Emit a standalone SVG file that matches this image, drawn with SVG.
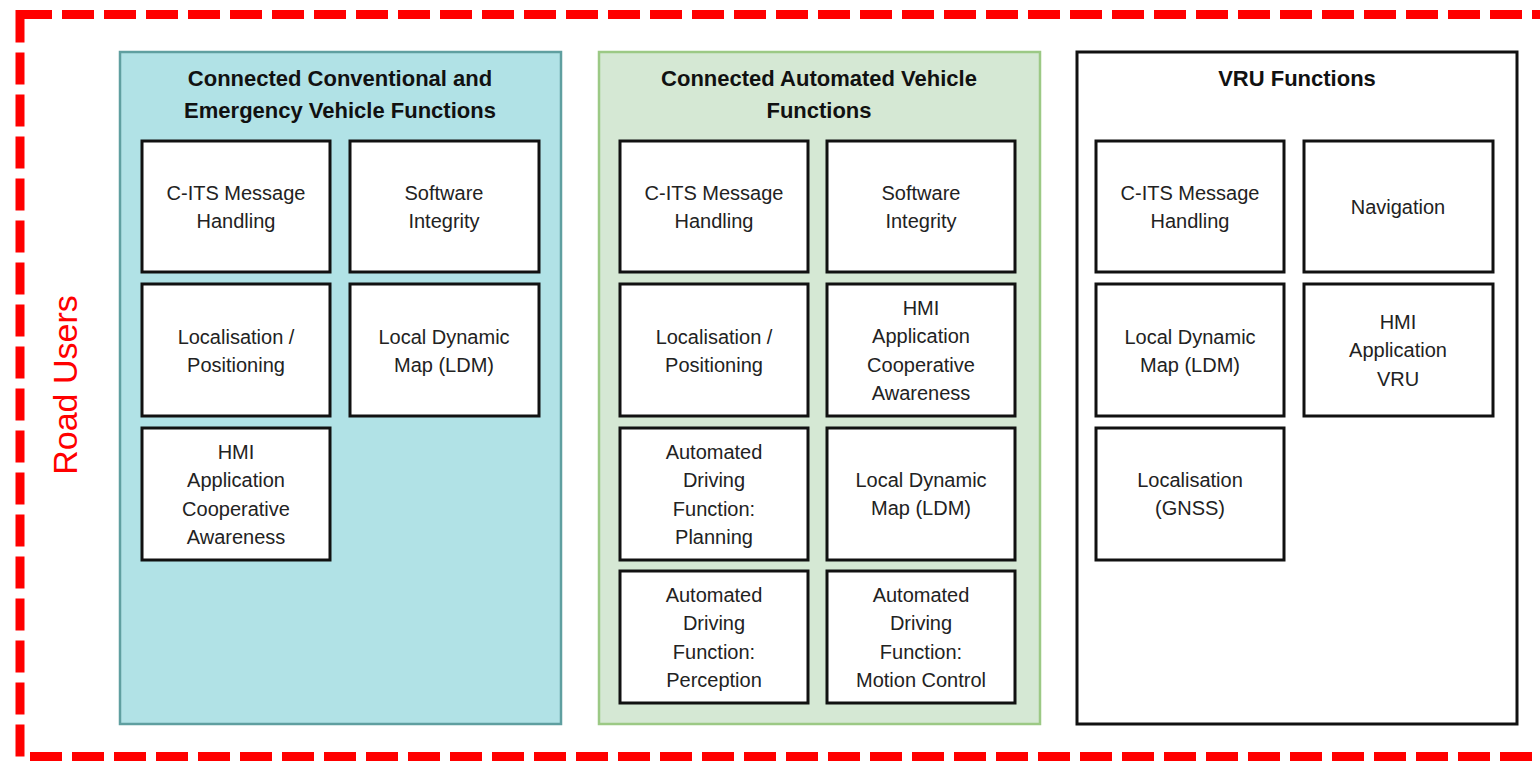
<svg xmlns="http://www.w3.org/2000/svg" width="1540" height="761" viewBox="0 0 1540 761">
<style>
.border{fill:none;stroke:#ff0000;stroke-width:9;stroke-dasharray:32 10}
.p1{fill:#b1e2e6;stroke:#5f9fa0;stroke-width:2.5}
.p2{fill:#d5e8d4;stroke:#9cc985;stroke-width:2.5}
.p3{fill:#ffffff;stroke:#111111;stroke-width:3}
.box{fill:#ffffff;stroke:#111111;stroke-width:3}
.title{font-family:"Liberation Sans",Arial,sans-serif;font-weight:bold;font-size:22px;fill:#111111;text-anchor:middle}
.lbl{font-family:"Liberation Sans",Arial,sans-serif;font-size:20px;fill:#222222;text-anchor:middle}
.road{font-family:"Liberation Sans",Arial,sans-serif;font-size:34px;fill:#ff0000;text-anchor:middle}
</style>
<rect width="1540" height="761" fill="#ffffff"/>
<rect class="border" x="20" y="14.5" width="1540" height="742"/>
<text class="road" transform="translate(77,385) rotate(-90)">Road Users</text>

<g id="panel-conventional">
<rect class="p1" x="120" y="52" width="441" height="672"/>
<text class="title" x="340" y="86">Connected Conventional and</text>
<text class="title" x="340" y="118">Emergency Vehicle Functions</text>
</g>
<g id="panel-automated">
<rect class="p2" x="599" y="52" width="441" height="672"/>
<text class="title" x="819" y="86">Connected Automated Vehicle</text>
<text class="title" x="819" y="118">Functions</text>
</g>
<g id="panel-vru">
<rect class="p3" x="1077" y="52" width="440" height="672"/>
<text class="title" x="1297" y="86">VRU Functions</text>
</g>

<g id="c1-cits"><rect class="box" x="142" y="141" width="188" height="131"/>
<text class="lbl" x="236" y="200">C-ITS Message</text><text class="lbl" x="236" y="228">Handling</text></g>
<g id="c1-software"><rect class="box" x="350" y="141" width="189" height="131"/>
<text class="lbl" x="444" y="200">Software</text><text class="lbl" x="444" y="228">Integrity</text></g>
<g id="c1-localisation"><rect class="box" x="142" y="284" width="188" height="132"/>
<text class="lbl" x="236" y="344">Localisation /</text><text class="lbl" x="236" y="372">Positioning</text></g>
<g id="c1-ldm"><rect class="box" x="350" y="284" width="189" height="132"/>
<text class="lbl" x="444" y="344">Local Dynamic</text><text class="lbl" x="444" y="372">Map (LDM)</text></g>
<g id="c1-hmi"><rect class="box" x="142" y="428" width="188" height="132"/>
<text class="lbl" x="236" y="459">HMI</text><text class="lbl" x="236" y="487">Application</text><text class="lbl" x="236" y="516">Cooperative</text><text class="lbl" x="236" y="544">Awareness</text></g>

<g id="c2-cits"><rect class="box" x="620" y="141" width="188" height="131"/>
<text class="lbl" x="714" y="200">C-ITS Message</text><text class="lbl" x="714" y="228">Handling</text></g>
<g id="c2-software"><rect class="box" x="827" y="141" width="188" height="131"/>
<text class="lbl" x="921" y="200">Software</text><text class="lbl" x="921" y="228">Integrity</text></g>
<g id="c2-localisation"><rect class="box" x="620" y="284" width="188" height="132"/>
<text class="lbl" x="714" y="344">Localisation /</text><text class="lbl" x="714" y="372">Positioning</text></g>
<g id="c2-hmi"><rect class="box" x="827" y="284" width="188" height="132"/>
<text class="lbl" x="921" y="315">HMI</text><text class="lbl" x="921" y="343">Application</text><text class="lbl" x="921" y="372">Cooperative</text><text class="lbl" x="921" y="400">Awareness</text></g>
<g id="c2-planning"><rect class="box" x="620" y="428" width="188" height="132"/>
<text class="lbl" x="714" y="459">Automated</text><text class="lbl" x="714" y="487">Driving</text><text class="lbl" x="714" y="516">Function:</text><text class="lbl" x="714" y="544">Planning</text></g>
<g id="c2-ldm"><rect class="box" x="827" y="428" width="188" height="132"/>
<text class="lbl" x="921" y="487">Local Dynamic</text><text class="lbl" x="921" y="515">Map (LDM)</text></g>
<g id="c2-perception"><rect class="box" x="620" y="571" width="188" height="132"/>
<text class="lbl" x="714" y="602">Automated</text><text class="lbl" x="714" y="630">Driving</text><text class="lbl" x="714" y="659">Function:</text><text class="lbl" x="714" y="687">Perception</text></g>
<g id="c2-motion"><rect class="box" x="827" y="571" width="188" height="132"/>
<text class="lbl" x="921" y="602">Automated</text><text class="lbl" x="921" y="630">Driving</text><text class="lbl" x="921" y="659">Function:</text><text class="lbl" x="921" y="687">Motion Control</text></g>

<g id="c3-cits"><rect class="box" x="1096" y="141" width="188" height="131"/>
<text class="lbl" x="1190" y="200">C-ITS Message</text><text class="lbl" x="1190" y="228">Handling</text></g>
<g id="c3-navigation"><rect class="box" x="1304" y="141" width="189" height="131"/>
<text class="lbl" x="1398" y="214">Navigation</text></g>
<g id="c3-ldm"><rect class="box" x="1096" y="284" width="188" height="132"/>
<text class="lbl" x="1190" y="344">Local Dynamic</text><text class="lbl" x="1190" y="372">Map (LDM)</text></g>
<g id="c3-hmi"><rect class="box" x="1304" y="284" width="189" height="132"/>
<text class="lbl" x="1398" y="329">HMI</text><text class="lbl" x="1398" y="357">Application</text><text class="lbl" x="1398" y="386">VRU</text></g>
<g id="c3-localisation"><rect class="box" x="1096" y="428" width="188" height="132"/>
<text class="lbl" x="1190" y="487">Localisation</text><text class="lbl" x="1190" y="515">(GNSS)</text></g>

<g id="connectors"></g>
</svg>
